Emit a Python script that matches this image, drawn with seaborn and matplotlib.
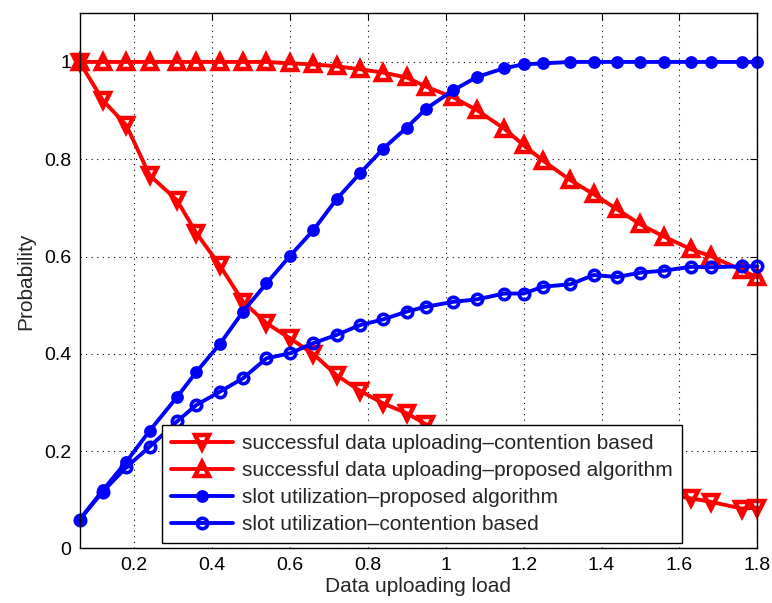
import numpy as np
import pandas as pd
import matplotlib
matplotlib.use("Agg")
import matplotlib.pyplot as plt
import seaborn as sns

load = [0.06, 0.12, 0.18, 0.24, 0.31, 0.36, 0.42, 0.48, 0.54, 0.60,
        0.66, 0.72, 0.78, 0.84, 0.90, 0.95, 1.02, 1.08, 1.15, 1.20,
        1.25, 1.32, 1.38, 1.44, 1.50, 1.56, 1.63, 1.68, 1.76, 1.80]

succ_contention = [1.0, 0.921, 0.870, 0.767, 0.716, 0.648, 0.582, 0.507, 0.463, 0.432,
                   0.400, 0.356, 0.324, 0.298, 0.278, 0.255, 0.226, 0.210, 0.194, 0.181,
                   0.169, 0.155, 0.143, 0.132, 0.121, 0.112, 0.103, 0.096, 0.082, 0.084]

succ_proposed = [1.0, 1.0, 1.0, 1.0, 1.0, 1.0, 1.0, 1.0, 1.0, 0.997,
                 0.995, 0.991, 0.985, 0.978, 0.968, 0.949, 0.927, 0.901, 0.863, 0.829,
                 0.797, 0.757, 0.728, 0.697, 0.666, 0.641, 0.615, 0.601, 0.572, 0.557]

slot_proposed = [0.059, 0.120, 0.178, 0.242, 0.311, 0.363, 0.420, 0.487, 0.545, 0.601,
                 0.654, 0.718, 0.771, 0.822, 0.865, 0.904, 0.942, 0.969, 0.987, 0.995,
                 0.997, 1.0, 1.0, 1.0, 1.0, 1.0, 1.0, 1.0, 1.0, 1.0]

slot_contention = [0.059, 0.117, 0.167, 0.209, 0.261, 0.295, 0.322, 0.350, 0.391, 0.401,
                   0.422, 0.439, 0.459, 0.471, 0.487, 0.497, 0.507, 0.512, 0.524, 0.524,
                   0.538, 0.543, 0.562, 0.558, 0.567, 0.571, 0.579, 0.578, 0.580, 0.580]

labels = ["successful data uploading\u2013contention based",
          "successful data uploading\u2013proposed algorithm",
          "slot utilization\u2013proposed algorithm",
          "slot utilization\u2013contention based"]

x_ticks = [0.2, 0.4, 0.6, 0.8, 1.0, 1.2, 1.4, 1.6, 1.8]
x_ticklabels = ["0.2", "0.4", "0.6", "0.8", "1", "1.2", "1.4", "1.6", "1.8"]
y_ticks = [0, 0.2, 0.4, 0.6, 0.8, 1.0]
y_ticklabels = ["0", "0.2", "0.4", "0.6", "0.8", "1"]

sns.set_style("white")
plt.rcParams['font.family'] = ['Liberation Sans', 'DejaVu Sans']

fig = plt.figure(figsize=(7.72, 6.03), dpi=100)
ax = fig.add_axes([0.103, 0.0904, 0.878, 0.8876])

styles = [
    dict(color="#ff0000", marker="v", markersize=9.5, markerfacecolor="none",
         markeredgecolor="#ff0000", markeredgewidth=3.2),
    dict(color="#ff0000", marker="^", markersize=9.5, markerfacecolor="none",
         markeredgecolor="#ff0000", markeredgewidth=3.2),
    dict(color="#0000ff", marker="o", markersize=8, markerfacecolor="#0000ff",
         markeredgecolor="#0000ff", markeredgewidth=1.2),
    dict(color="#0000ff", marker="o", markersize=7.5, markerfacecolor="none",
         markeredgecolor="#0000ff", markeredgewidth=2.6),
]
series = [succ_contention, succ_proposed, slot_proposed, slot_contention]

for vals, lab, st in zip(series, labels, styles):
    df = pd.DataFrame({"load": load, "p": vals})
    sns.lineplot(data=df, x="load", y="p", ax=ax, label=lab, linewidth=2.8,
                 sort=False, estimator=None, clip_on=False, **st)

ax.set_xlim(0.06, 1.8)
ax.set_ylim(0, 1.1)
ax.set_xticks(x_ticks)
ax.set_xticklabels(x_ticklabels)
ax.set_yticks(y_ticks)
ax.set_yticklabels(y_ticklabels)
ax.tick_params(direction="in", top=True, right=True, length=5, width=0.8,
               labelsize=14, colors="black", pad=6)
ax.grid(True, linestyle=(0, (1, 4)), color="black", linewidth=0.8)
for s in ax.spines.values():
    s.set_color("black")
    s.set_linewidth(1.0)
ax.set_xlabel("Data uploading load", fontsize=15, labelpad=2)
ax.set_ylabel("Probability", fontsize=15, labelpad=6)

leg = ax.legend(loc="lower left", bbox_to_anchor=(0.121, 0.0097), borderaxespad=0,
                fontsize=15, handlelength=3.0, frameon=True, fancybox=False,
                borderpad=0.45, labelspacing=0.38, handletextpad=0.4)
leg.get_frame().set_edgecolor("black")
leg.get_frame().set_linewidth(1.0)
leg.get_frame().set_alpha(1)

fig.savefig("out.png", dpi=100)
